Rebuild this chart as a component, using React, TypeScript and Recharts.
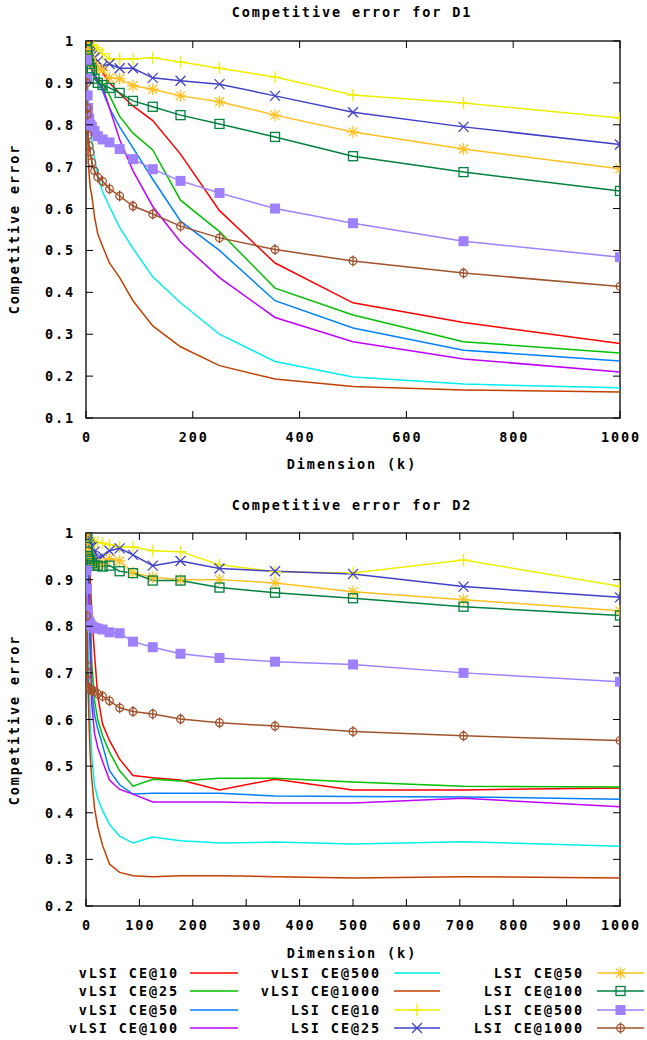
import React from 'react';
import { LineChart, Line, XAxis, YAxis, ReferenceArea } from 'recharts';

// dimension values (k) where every curve was sampled
const dims = [1, 2, 3, 4, 6, 8, 11, 16, 22, 31, 44, 63, 88, 125, 177, 250, 354, 500, 707, 1000];

// D1
const vlsi10D1 = [1.0, 0.995, 0.99, 0.985, 0.975, 0.97, 0.96, 0.95, 0.94, 0.925, 0.9, 0.875, 0.845, 0.81, 0.73, 0.595, 0.47, 0.375, 0.328, 0.278];
const vlsi25D1 = [1.0, 0.99, 0.975, 0.965, 0.95, 0.94, 0.93, 0.92, 0.91, 0.9, 0.87, 0.82, 0.78, 0.74, 0.62, 0.545, 0.41, 0.346, 0.282, 0.255];
const vlsi50D1 = [0.995, 0.985, 0.975, 0.965, 0.955, 0.945, 0.935, 0.92, 0.905, 0.88, 0.84, 0.795, 0.745, 0.67, 0.57, 0.5, 0.38, 0.315, 0.262, 0.236];
const vlsi100D1 = [0.99, 0.985, 0.98, 0.97, 0.96, 0.95, 0.935, 0.92, 0.905, 0.89, 0.84, 0.765, 0.69, 0.605, 0.52, 0.435, 0.34, 0.282, 0.241, 0.21];
const vlsi500D1 = [0.97, 0.93, 0.9, 0.87, 0.83, 0.8, 0.76, 0.72, 0.68, 0.64, 0.605, 0.555, 0.505, 0.437, 0.375, 0.3, 0.235, 0.198, 0.181, 0.172];
const vlsi1000D1 = [0.95, 0.88, 0.82, 0.72, 0.68, 0.65, 0.63, 0.58, 0.54, 0.51, 0.47, 0.435, 0.38, 0.32, 0.27, 0.225, 0.193, 0.175, 0.167, 0.162];
const lsi10D1 = [1.0, 1.0, 0.998, 0.995, 0.99, 0.99, 0.99, 0.985, 0.98, 0.97, 0.957, 0.957, 0.957, 0.96, 0.95, 0.935, 0.914, 0.871, 0.852, 0.816];
const lsi25D1 = [1.0, 0.995, 0.99, 0.985, 0.975, 0.97, 0.965, 0.96, 0.952, 0.94, 0.945, 0.935, 0.935, 0.912, 0.905, 0.897, 0.869, 0.83, 0.795, 0.753];
const lsi50D1 = [1.0, 0.99, 0.98, 0.97, 0.96, 0.955, 0.95, 0.94, 0.935, 0.93, 0.912, 0.91, 0.893, 0.885, 0.869, 0.855, 0.823, 0.783, 0.742, 0.695];
const lsi100D1 = [1.0, 0.98, 0.965, 0.955, 0.945, 0.935, 0.93, 0.91, 0.9, 0.895, 0.888, 0.876, 0.857, 0.843, 0.823, 0.802, 0.771, 0.725, 0.687, 0.642];
const lsi500D1 = [0.955, 0.91, 0.87, 0.84, 0.815, 0.8, 0.795, 0.785, 0.773, 0.765, 0.758, 0.742, 0.718, 0.694, 0.666, 0.637, 0.6, 0.565, 0.522, 0.484];
const lsi1000D1 = [0.9, 0.84, 0.825, 0.775, 0.75, 0.735, 0.71, 0.69, 0.675, 0.665, 0.647, 0.63, 0.606, 0.587, 0.558, 0.53, 0.502, 0.475, 0.446, 0.414];

// D2
const vlsi10D2 = [0.99, 0.98, 0.97, 0.96, 0.94, 0.9, 0.82, 0.74, 0.65, 0.59, 0.555, 0.515, 0.48, 0.475, 0.47, 0.449, 0.472, 0.449, 0.449, 0.453];
const vlsi25D2 = [0.99, 0.98, 0.97, 0.95, 0.9, 0.83, 0.72, 0.64, 0.6, 0.565, 0.53, 0.49, 0.457, 0.472, 0.468, 0.474, 0.474, 0.466, 0.457, 0.455];
const vlsi50D2 = [0.99, 0.98, 0.96, 0.94, 0.88, 0.8, 0.66, 0.61, 0.58, 0.545, 0.49, 0.46, 0.44, 0.442, 0.442, 0.442, 0.436, 0.435, 0.434, 0.429];
const vlsi100D2 = [0.98, 0.96, 0.93, 0.9, 0.82, 0.74, 0.63, 0.57, 0.54, 0.51, 0.47, 0.45, 0.44, 0.423, 0.423, 0.423, 0.421, 0.421, 0.431, 0.413];
const vlsi500D2 = [0.95, 0.9, 0.84, 0.78, 0.68, 0.6, 0.52, 0.46, 0.43, 0.405, 0.375, 0.35, 0.335, 0.348, 0.34, 0.335, 0.337, 0.333, 0.338, 0.328];
const vlsi1000D2 = [0.9, 0.8, 0.72, 0.66, 0.58, 0.52, 0.47, 0.41, 0.37, 0.33, 0.29, 0.272, 0.265, 0.263, 0.265, 0.265, 0.263, 0.26, 0.263, 0.26];
const lsi10D2 = [1.0, 0.995, 0.99, 0.99, 0.985, 0.985, 0.98, 0.98, 0.98, 0.978, 0.975, 0.97, 0.97, 0.962, 0.96, 0.932, 0.917, 0.914, 0.942, 0.886];
const lsi25D2 = [1.0, 0.99, 0.985, 0.98, 0.975, 0.97, 0.97, 0.96, 0.945, 0.95, 0.962, 0.967, 0.953, 0.93, 0.94, 0.924, 0.918, 0.912, 0.885, 0.862];
const lsi50D2 = [1.0, 0.98, 0.965, 0.955, 0.95, 0.945, 0.94, 0.935, 0.93, 0.935, 0.945, 0.94, 0.915, 0.905, 0.9, 0.9, 0.893, 0.874, 0.857, 0.833];
const lsi100D2 = [0.995, 0.97, 0.96, 0.95, 0.945, 0.94, 0.935, 0.93, 0.93, 0.928, 0.93, 0.918, 0.914, 0.898, 0.898, 0.883, 0.872, 0.86, 0.842, 0.823];
const lsi500D2 = [0.92, 0.88, 0.835, 0.82, 0.81, 0.805, 0.8, 0.797, 0.795, 0.793, 0.787, 0.785, 0.767, 0.755, 0.741, 0.732, 0.724, 0.718, 0.7, 0.681];
const lsi1000D2 = [0.822, 0.715, 0.7, 0.683, 0.667, 0.665, 0.662, 0.66, 0.655, 0.65, 0.64, 0.625, 0.617, 0.612, 0.601, 0.593, 0.586, 0.574, 0.565, 0.555];

const seriesNames = [
  'vLSI CE@10', 'vLSI CE@25', 'vLSI CE@50', 'vLSI CE@100', 'vLSI CE@500', 'vLSI CE@1000',
  'LSI CE@10', 'LSI CE@25', 'LSI CE@50', 'LSI CE@100', 'LSI CE@500', 'LSI CE@1000',
];
const colors = ['#ff0000', '#00c000', '#0080ff', '#c000ff', '#00eeee', '#c04000',
  '#eeee00', '#4040c8', '#ffc020', '#008040', '#9f80ff', '#a0522d'];
const markers = [null, null, null, null, null, null, 'plus', 'cross', 'star', 'box', 'fbox', 'ring'];

const xTicksD1 = [0, 200, 400, 600, 800, 1000];
const xTicksD2 = [0, 100, 200, 300, 400, 500, 600, 700, 800, 900, 1000];
const yTicksD1 = [0.1, 0.2, 0.3, 0.4, 0.5, 0.6, 0.7, 0.8, 0.9, 1];
const yTicksD2 = [0.2, 0.3, 0.4, 0.5, 0.6, 0.7, 0.8, 0.9, 1];

const buildRows = (cols: number[][]) =>
  dims.map((k, i) => {
    const row: any = { k };
    cols.forEach((c, j) => { row['s' + j] = c[i]; });
    return row;
  });

const dataD1 = buildRows([vlsi10D1, vlsi25D1, vlsi50D1, vlsi100D1, vlsi500D1, vlsi1000D1,
  lsi10D1, lsi25D1, lsi50D1, lsi100D1, lsi500D1, lsi1000D1]);
const dataD2 = buildRows([vlsi10D2, vlsi25D2, vlsi50D2, vlsi100D2, vlsi500D2, vlsi1000D2,
  lsi10D2, lsi25D2, lsi50D2, lsi100D2, lsi500D2, lsi1000D2]);

const FONT = "'DejaVu Sans Mono', 'Liberation Mono', monospace";
const textStyle: React.CSSProperties = {
  fontFamily: FONT, fontWeight: 'bold', fontSize: 13.5, letterSpacing: 1.9, fill: '#000',
};

function Marker({ kind, cx, cy, color }: { kind: string | null; cx: number; cy: number; color: string }) {
  if (!kind || cx == null || cy == null) return null;
  const s = { stroke: color, strokeWidth: 1.3, fill: 'none' };
  switch (kind) {
    case 'plus':
      return <g {...s}><line x1={cx - 6} x2={cx + 6} y1={cy} y2={cy} /><line x1={cx} x2={cx} y1={cy - 6} y2={cy + 6} /></g>;
    case 'cross':
      return <g {...s}><line x1={cx - 5} x2={cx + 5} y1={cy - 5} y2={cy + 5} /><line x1={cx - 5} x2={cx + 5} y1={cy + 5} y2={cy - 5} /></g>;
    case 'star':
      return (
        <g {...s}>
          <line x1={cx - 6} x2={cx + 6} y1={cy} y2={cy} /><line x1={cx} x2={cx} y1={cy - 6} y2={cy + 6} />
          <line x1={cx - 4.5} x2={cx + 4.5} y1={cy - 4.5} y2={cy + 4.5} /><line x1={cx - 4.5} x2={cx + 4.5} y1={cy + 4.5} y2={cy - 4.5} />
        </g>
      );
    case 'box':
      return <rect x={cx - 4.5} y={cy - 4.5} width={9} height={9} {...s} />;
    case 'fbox':
      return <rect x={cx - 5} y={cy - 5} width={10} height={10} fill={color} stroke="none" />;
    case 'ring':
      return <g {...s}><circle cx={cx} cy={cy} r={3.8} /><line x1={cx} x2={cx} y1={cy - 5.5} y2={cy + 5.5} /></g>;
    default:
      return null;
  }
}

const fmt = (v: number) => String(Number(v.toFixed(1)));

type PanelProps = {
  top: number; data: any[]; xTicks: number[]; yTicks: number[]; yDomain: [number, number];
};

const PL = 86, PR = 620, PT = 41, H = 470;

function Panel({ top, data, xTicks, yTicks, yDomain }: PanelProps) {
  const PB = PT + (yDomain[0] === 0.1 ? 377 : 373);
  const XTick = (p: any) => (
    <g>
      <line x1={p.x} x2={p.x} y1={PB} y2={PB - 7} stroke="#000" />
      <line x1={p.x} x2={p.x} y1={PT} y2={PT + 7} stroke="#000" />
      <text x={p.x + 1} y={PB + 19} textAnchor="middle" dominantBaseline="central" style={textStyle}>{p.payload.value}</text>
    </g>
  );
  const YTick = (p: any) => (
    <g>
      <line x1={PL} x2={PL + 7} y1={p.y} y2={p.y} stroke="#000" />
      <line x1={PR - 7} x2={PR} y1={p.y} y2={p.y} stroke="#000" />
      <text x={PL - 11} y={p.y} textAnchor="end" dominantBaseline="central" style={textStyle}>{fmt(p.payload.value)}</text>
    </g>
  );
  return (
    <div style={{ position: 'absolute', left: 0, top }}>
      <LineChart width={647} height={H} data={data}
        margin={{ top: PT, right: 647 - PR, left: 0, bottom: H - PB - 30 }}>
        <XAxis dataKey="k" type="number" domain={[0, 1000]} ticks={xTicks} interval={0}
          height={30} axisLine={false} tickLine={false} tick={XTick} allowDataOverflow />
        <YAxis type="number" domain={yDomain} ticks={yTicks} interval={0} width={PL}
          axisLine={false} tickLine={false} tick={YTick} allowDataOverflow />
        <ReferenceArea x1={0} x2={1000} y1={yDomain[0]} y2={yDomain[1]} fill="none" fillOpacity={0}
          stroke="#222" strokeWidth={1.5} />
        {seriesNames.map((name, j) => (
          <Line key={name} dataKey={'s' + j} name={name} type="linear" stroke={colors[j]} strokeWidth={1.5}
            isAnimationActive={false}
            dot={markers[j] ? (d: any) => <Marker key={d.index} kind={markers[j]} cx={d.cx} cy={d.cy} color={colors[j]} /> : false}
            activeDot={false} />
        ))}
      </LineChart>
    </div>
  );
}

const labelDiv = (text: string, x: number, y: number, rotate = false): React.ReactNode => (
  <div style={{
    position: 'absolute', left: x, top: y, transform: `translate(-50%, -50%)${rotate ? ' rotate(-90deg)' : ''}`,
    fontFamily: FONT, fontWeight: 'bold', fontSize: 13.5, letterSpacing: 1.9, whiteSpace: 'nowrap', lineHeight: 1,
  }}>{text}</div>
);

function LegendBox() {
  const rowsY = [13, 31, 50, 68];
  const cols = [{ te: 179, l1: 190, l2: 238 }, { te: 381, l1: 394, l2: 440 }, { te: 584, l1: 597, l2: 644 }];
  return (
    <svg width={647} height={80} style={{ position: 'absolute', left: 0, top: 960 }}>
      {seriesNames.map((name, j) => {
        const c = cols[Math.floor(j / 4)];
        const y = rowsY[j % 4];
        return (
          <g key={name}>
            <text x={c.te} y={y} textAnchor="end" dominantBaseline="central" style={textStyle}>{name}</text>
            <line x1={c.l1} x2={c.l2} y1={y} y2={y} stroke={colors[j]} strokeWidth={1.5} />
            <Marker kind={markers[j]} cx={(c.l1 + c.l2) / 2} cy={y} color={colors[j]} />
          </g>
        );
      })}
    </svg>
  );
}

export default function App() {
  return (
    <div style={{ position: 'absolute', left: 0, top: 0, width: 647, height: 1040, background: '#fff', overflow: 'hidden' }}>
      {labelDiv('Competitive error for D1', 352, 13)}
      <Panel top={0} data={dataD1} xTicks={xTicksD1} yTicks={yTicksD1} yDomain={[0.1, 1]} />
      {labelDiv('Dimension (k)', 352, 465)}
      {labelDiv('Competitive error', 15, 229, true)}

      {labelDiv('Competitive error for D2', 352, 506)}
      <Panel top={492} data={dataD2} xTicks={xTicksD2} yTicks={yTicksD2} yDomain={[0.2, 1]} />
      {labelDiv('Dimension (k)', 352, 954)}
      {labelDiv('Competitive error', 15, 720, true)}

      <LegendBox />
    </div>
  );
}
